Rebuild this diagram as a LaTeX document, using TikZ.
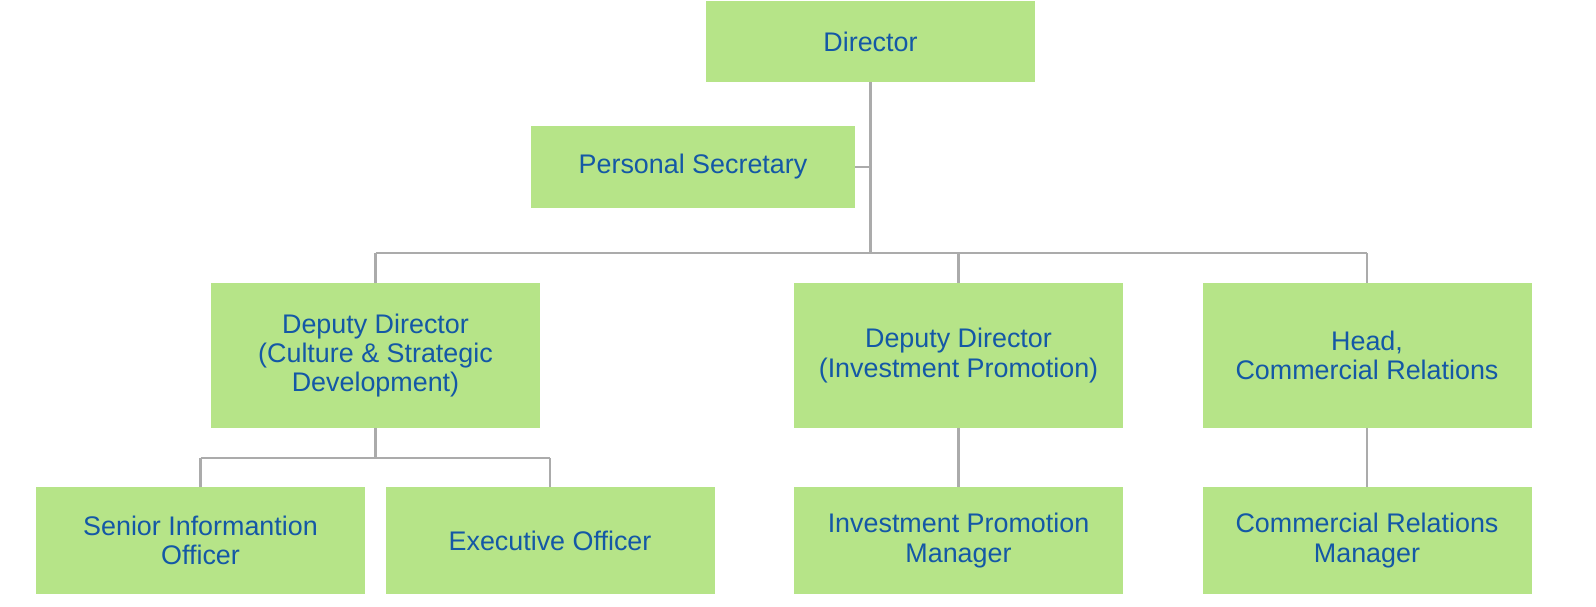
\documentclass[tikz,border=0pt]{standalone}
\usepackage{fontspec}
\setmainfont{Liberation Sans}
\usetikzlibrary{positioning}
\definecolor{mgreen}{HTML}{B6E488}
\definecolor{mblue}{HTML}{1458A6}
\definecolor{mgrey}{HTML}{ABABAB}
\tikzset{post/.style = {fill=mgreen, text=mblue, align=center, inner sep=0pt,
                        minimum width=6.58cm,
                        font=\fontsize{15.3}{16.6}\selectfont},
         link/.style = {draw=mgrey, line width=1.25pt}}
\begin{document}
\begin{tikzpicture}
    \useasboundingbox (0, 0) rectangle (31.92, -12.12);

    \node [post, minimum height=1.62cm] (dir) at (17.41, -0.83) {Director};
    \node [post, minimum height=1.64cm, minimum width=6.48cm] (sec) at (13.86, -3.34) {Personal Secretary};

    \foreach \name/\x/\txt in {ddc/7.51/{Deputy Director\\(Culture \& Strategic\\Development)},
                               ddi/19.17/{Deputy Director\\(Investment Promotion)},
                               hcr/27.34/{Head,\\Commercial Relations}} {
      \node [post, minimum height=2.9cm] (\name) at (\x, -7.11) {\txt};
    }
    \foreach \name/\x/\txt in {sio/4.01/{Senior Informantion\\Officer},
                               eo/11.0/{Executive Officer},
                               ipm/19.17/{Investment Promotion\\Manager},
                               crm/27.34/{Commercial Relations\\Manager}} {
      \node [post, minimum height=2.14cm] (\name) at (\x, -10.81) {\txt};
    }

    \coordinate (bus) at (0, -5.06);
    \coordinate (subbus) at (0, -9.16);

    \draw [link] (dir) -- (dir |- bus);
    \draw [link] (sec) -- (sec -| dir);
    \draw [link] (ddc |- bus) -- (hcr |- bus);
    \foreach \name in {ddc, ddi, hcr} {
      \draw [link] (\name) -- (\name |- bus);
    }
    \draw [link] (ddc) -- (ddc |- subbus);
    \draw [link] (sio |- subbus) -- (eo |- subbus);
    \draw [link] (sio) -- (sio |- subbus);
    \draw [link] (eo) -- (eo |- subbus);
    \draw [link] (ddi) -- (ipm);
    \draw [link] (hcr) -- (crm);
  \end{tikzpicture}
\end{document}
